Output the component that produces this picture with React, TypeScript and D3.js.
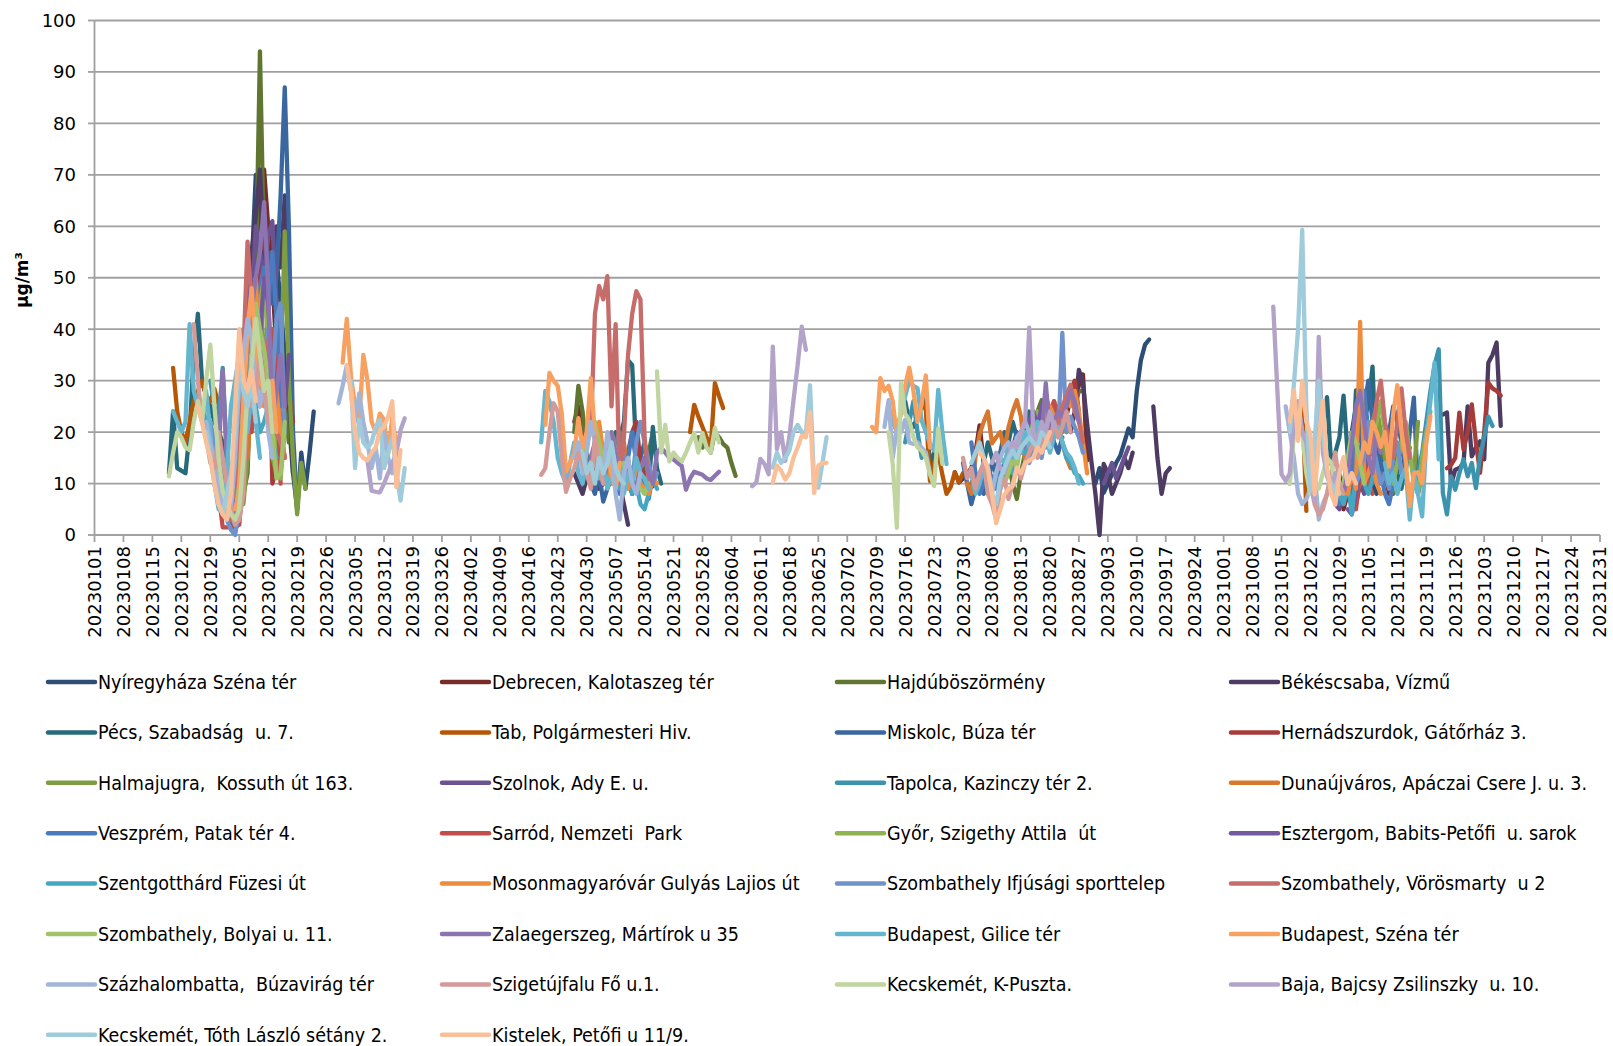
import React from 'react';
import * as d3 from 'd3';

type Seg = [number, number[]];

const names: string[] = [
  'Nyíregyháza Széna tér', 'Debrecen, Kalotaszeg tér', 'Hajdúböszörmény', 'Békéscsaba, Vízmű',
  'Pécs, Szabadság  u. 7.', 'Tab, Polgármesteri Hiv.', 'Miskolc, Búza tér', 'Hernádszurdok, Gátőrház 3.',
  'Halmajugra,  Kossuth út 163.', 'Szolnok, Ady E. u.', 'Tapolca, Kazinczy tér 2.', 'Dunaújváros, Apáczai Csere J. u. 3.',
  'Veszprém, Patak tér 4.', 'Sarród, Nemzeti  Park', 'Győr, Szigethy Attila  út', 'Esztergom, Babits-Petőfi  u. sarok',
  'Szentgotthárd Füzesi út', 'Mosonmagyaróvár Gulyás Lajios út', 'Szombathely Ifjúsági sporttelep', 'Szombathely, Vörösmarty  u 2',
  'Szombathely, Bolyai u. 11.', 'Zalaegerszeg, Mártírok u 35', 'Budapest, Gilice tér', 'Budapest, Széna tér',
  'Százhalombatta,  Búzavirág tér', 'Szigetújfalu Fő u.1.', 'Kecskemét, K-Puszta.', 'Baja, Bajcsy Zsilinszky  u. 10.',
  'Kecskemét, Tóth László sétány 2.', 'Kistelek, Petőfi u 11/9.',
];

const colors: string[] = [
  '#2C4D75', '#772C2A', '#5F7530', '#4D3B62', '#276A7C', '#B65708',
  '#3B67A0', '#A63C3A', '#7E9C40', '#6A5390', '#3B93AD', '#D8782E',
  '#4A7BBE', '#C24E4C', '#8FB350', '#7459A0', '#45A6C2', '#EE8B3C',
  '#6F92CB', '#C66C6A', '#A2C26A', '#8C74B0', '#64B5CE', '#F7A060',
  '#A2B5D8', '#D39A98', '#C0D5A0', '#B3A3C8', '#9FCBDB', '#F9BF99',
];

const s01: Seg[] = [
  [36, [10, 30, 52, 70, 62, 55, 48, 57, 54, 45, 35, 22, 12, 5, 16, 9, 16, 24]],
  [242, [10, 13, 8.2, 10, 11.8, 14, 15.4, 18, 20.7, 19, 28, 34, 37, 38]],
  [300, [10, 12, 8, 15, 20, 25, 30, 22, 14, 10, 8]],
];
const s02: Seg[] = [
  [33, [3, 2, 4, 12, 25, 40, 55, 65, 71, 60, 50, 35, 20]],
  [116, [22, 25, 20, 15, 12, 10, 14]],
  [208, [12.2, 10.2, 11, 12, 13, 16, 21.3, 14, 11]],
  [228, [18, 20, 22, 19, 24, 21, 25, 23, 27, 26, 29, 31.2, 14.5]],
  [302, [5, 8, 12, 6, 10, 14, 9, 12, 15, 18, 12, 8]],
];
const s03: Seg[] = [
  [35, [5, 8, 12, 35, 50, 94, 55, 35, 28, 24, 30, 25, 18]],
  [116, [20, 29, 24, 16, 13, 18, 15, 12, 14, 10, 12, 14, 9, 11, 8, 10, 9, 12, 16, 20]],
  [146, [19, 17, 18, 16, 20, 19, 17.7, 17, 14, 11.5]],
  [221, [14, 10, 7, 12, 16, 20, 22, 24, 26.2, 22, 20, 24, 23, 25, 26, 27, 25, 27.9, 28]],
  [304, [10, 12, 14, 9, 12, 18, 22, 15, 10, 12, 8]],
];
const s04: Seg[] = [
  [32, [8, 5, 3, 10, 25, 40, 55, 62, 71, 55, 45, 50, 60, 52, 66, 30, 12]],
  [116, [12, 10, 8, 11, 14, 12, 9, 10, 13, 15, 12, 10, 6, 2]],
  [236, [20, 24, 32.1, 29.5, 21.7, 14.5, 8, 0, 13.8, 12, 8, 10, 12, 15, 13, 16]],
  [256, [25, 15, 8, 12, 13]],
  [326, [23.4, 23.8, 9.8, 12.7, 13, 14, 25, 15.3, 17, 18.2, 14.7, 33.5, 35, 37.4, 21.2]],
];
const s05: Seg[] = [
  [18, [12, 24, 13, 12.5, 12, 20, 35, 43, 30, 27, 25, 22, 20, 18, 10, 6, 4, 8, 25, 40, 45, 35, 30, 32, 25, 20, 15]],
  [124, [14, 16, 20, 19, 22, 34, 33, 16, 12, 10, 9, 21, 13, 10]],
  [195, [24, 26, 22, 21, 23, 25, 27, 13, 16]],
  [212, [10, 12, 9, 14, 18, 15, 12, 16, 20, 18, 22, 19, 17, 20, 24, 22, 20, 18, 23, 21, 19, 22, 25, 20]],
  [296, [18, 21.3, 26.8, 13.8, 16, 19, 27.1, 15.6, 10.4, 28.1, 18.3, 22.9, 25, 32.7, 13.1, 10, 15, 20, 18, 12, 9, 14, 17]],
];
const s06: Seg[] = [
  [19, [32.5, 24, 20, 18, 22, 26, 28, 30, 27, 26, 28.4, 25.4, 8, 4, 3, 6, 20, 32, 28, 25, 22]],
  [144, [20, 25.3, 23, 21, 19, 17, 29.5, 27, 24.7]],
  [200, [26, 24.3, 10.5, 14, 16, 11.7, 8, 9.3, 12.2, 10.3, 12]],
  [290, [20, 24, 26, 4.7]],
];
const s07: Seg[] = [
  [28, [20, 15, 12, 8, 5, 3, 2, 5, 15, 35, 50, 45, 40, 50, 55, 45, 50, 66, 87, 60, 20, 5]],
  [120, [10, 8, 12, 6.5, 9, 11, 14, 10, 12, 13, 8, 11, 15, 18, 13]],
  [210, [14, 10, 6, 9, 12, 8, 10, 14, 12, 16, 18, 15, 17, 20, 18, 16, 22, 19, 17, 20, 23, 21, 18, 16, 19]],
  [305, [10, 14, 25, 30, 22, 18, 12, 15, 20, 25, 22, 18, 12, 20, 26.7, 8, 12]],
];
const s08: Seg[] = [
  [31, [10, 4, 2, 3, 5, 15, 30, 25, 40, 55, 60, 45, 10, 13, 18, 25, 28, 22]],
  [128, [12, 16, 20, 22, 14, 11, 9, 9.5]],
  [226, [18, 20, 22, 21, 24, 20, 23, 25, 22, 26, 28, 30, 24]],
  [327, [13, 13.6, 15, 23.8, 16.6, 20, 25.4, 18, 12.1, 20, 29.6, 28.5, 28, 27.1]],
];
const s09: Seg[] = [
  [36, [6, 15, 30, 40, 48, 35, 25, 15, 12, 30, 59, 30, 15, 4, 14, 9]],
  [226, [18, 20, 22, 25, 24, 22, 26, 23, 20, 22]],
  [306, [12, 15, 18, 22, 25, 20, 15, 12, 10, 14, 18, 20, 15, 12, 22]],
];
const s10: Seg[] = [
  [37, [20, 45, 60, 55, 50, 58, 61, 45, 30, 25, 35]],
  [244, [10, 12, 14, 11, 13, 15, 17]],
  [300, [6, 5, 8, 10, 7, 12, 10, 8, 14]],
];
const s11: Seg[] = [
  [28, [30, 25, 22, 32.5, 15, 8, 5, 3, 10, 30, 45, 40, 35, 30, 25, 22, 28, 20, 15]],
  [124, [12, 15, 18, 20, 15, 14, 12, 10, 9, 11, 7, 12]],
  [196, [18, 22, 26, 20, 15]],
  [216, [8, 10, 12, 9, 11, 14, 16, 18, 20, 17, 19, 22, 20, 18]],
  [320, [12, 16, 22, 28, 33, 36.1, 8.2, 4, 11.4, 8.8, 12, 14.7, 11.4, 14, 9.1, 15.3, 19, 23, 21.2]],
];
const s12: Seg[] = [
  [37, [15, 28, 40, 35, 30, 25, 38, 32, 20, 15]],
  [126, [15, 13, 18, 12, 10, 14]],
  [211, [10, 8, 15.1, 19.6, 22, 24, 17.8, 19, 20, 16.4, 21, 24, 26.2, 23, 14.5, 18.5, 20, 17, 22, 25, 18, 20, 22, 18, 15, 13]],
  [305, [8, 10, 12, 15, 11]],
];
const s13: Seg[] = [
  [30, [15, 10, 5, 3, 2, 6, 20, 38, 45, 40, 48, 52, 45, 55, 42, 25]],
  [118, [10, 15, 12, 18, 20, 16, 12, 14, 10, 8, 12, 15, 20, 14, 10]],
  [212, [18, 12, 8, 10, 13, 11, 9, 12, 14]],
  [300, [8, 6, 10, 14, 12, 18, 24, 28, 20, 15, 10, 12, 8, 6, 10]],
];
const s14: Seg[] = [
  [30, [8, 1.5, 1.5, 1.5, 1.5, 2, 12, 30, 20, 28, 25, 30, 35, 40, 30, 10]],
  [228, [20, 22, 19, 24, 26, 23, 21]],
  [302, [6, 10, 8, 5, 12, 15, 10, 8]],
];
const s15: Seg[] = [
  [32, [10, 4, 2, 8, 25, 40, 35, 30, 45, 50, 38, 25, 12, 11, 20]],
  [222, [12, 15, 18, 20, 17, 22, 24, 21, 26, 23, 20, 22]],
  [308, [15, 18, 22, 26, 20, 15, 10, 14, 18, 22, 16, 10, 8, 15, 20, 24]],
];
const s16: Seg[] = [
  [34, [5, 10, 30, 50, 45, 40, 38, 50, 45, 30, 20]],
  [224, [18, 20, 22, 24, 21, 25, 27, 24]],
  [303, [5, 4, 8, 12, 18, 14, 10]],
];
const s17: Seg[] = [
  [26, [25, 22, 20, 15, 10, 5, 3, 6, 12, 28, 40, 35, 30, 25, 20, 22, 25, 18, 15]],
  [124, [15, 12, 10, 9, 12, 15, 8, 10, 6, 5, 8, 11, 9]],
  [222, [12, 15, 18, 16, 20, 18, 22, 19, 17, 20, 23, 21, 18, 15, 14, 12, 11.5, 10]],
  [301, [8, 6, 10, 4, 12, 15, 10, 8, 11, 14]],
];
const s18: Seg[] = [
  [34, [4, 6, 20, 35, 45, 50, 30, 25, 35, 22, 28, 20, 15]],
  [120, [14, 18, 22, 16, 12, 10, 12, 15, 11, 9, 12, 13, 10, 9, 8, 11, 10]],
  [226, [16, 18, 20, 17, 22, 25, 23, 20, 24, 27, 25, 28, 24, 18, 12]],
  [302, [10, 8, 12, 9, 41.4, 10, 12, 15, 10, 8]],
];
const s19: Seg[] = [
  [28, [22, 18, 12, 6, 3, 1, 0, 5, 22, 35, 48, 40, 30, 35, 40, 30, 42, 45, 20]],
  [128, [15, 12, 10, 18, 22, 18, 14, 10, 12]],
  [226, [14, 16, 18, 15, 20, 17, 22, 19, 39.3, 20, 23, 21, 19, 16]],
  [305, [10, 12, 16, 22, 18, 14, 10, 12, 9, 15, 18, 12]],
];
const s20: Seg[] = [
  [31, [12, 6, 3, 8, 20, 35, 57, 45, 40, 35, 30, 38, 25, 20, 18, 15]],
  [120, [20, 43, 48.4, 45.8, 50.3, 25, 41, 10, 19, 35, 43, 47.4, 45.8, 19, 10]],
  [232, [20, 22, 25, 27, 29.2, 24, 22, 18]],
  [308, [15, 20, 26, 30, 22, 18, 15, 22, 28.5, 20, 15]],
];
const s21: Seg[] = [
  [33, [6, 4, 10, 25, 35, 33, 45, 40, 36, 30, 20, 11, 12, 22]],
  [118, [15, 18, 20, 22, 18, 15, 14, 20, 16, 12, 14, 13, 12, 10, 9, 8, 10]],
  [220, [10, 12, 15, 13, 18, 20, 17, 22]],
  [300, [12, 8, 10, 15, 20, 18, 14, 10]],
];
const s22: Seg[] = [
  [30, [15, 32, 15, 8, 5, 3, 20, 38, 44, 50, 55, 64.7, 48, 22, 28, 35, 25]],
  [120, [15, 18, 12, 10, 14, 20, 16, 12, 10, 14, 11, 9, 13, 15, 12, 10, 16, 17, 16, 15, 14.7, 14, 13.4, 8.8, 11, 12.3, 12, 11.7, 11, 10.7, 11.5, 12.3]],
  [224, [16, 18, 17, 20, 22, 19, 29.5, 20, 22, 24, 23, 25, 28, 26, 22]],
  [302, [8, 12, 18, 25, 28, 22, 15, 12, 20, 16]],
];
const s23: Seg[] = [
  [19, [24, 22, 20, 22, 41, 28, 25, 22, 28, 20, 10, 5, 8, 12, 25, 30, 35, 25, 20, 28, 22, 15]],
  [108, [18, 28, 26, 22, 15, 12, 10, 14, 18, 12, 10, 14, 12, 15, 11, 13, 9, 12, 10, 14, 8, 12, 10, 15, 12, 11, 9]],
  [192, [25, 22, 20, 24, 27, 30, 29, 28.5, 22.2, 20, 17.7, 16.4, 28.2, 20, 13.8]],
  [212, [12, 8, 10, 13, 11, 9, 12, 15, 14, 17, 15, 18, 16, 20, 17, 19, 22, 18, 20, 16, 19, 21, 18, 16, 15, 13, 10]],
  [312, [14, 10, 12, 8, 11, 13, 3, 12.3, 8, 3.6, 18.6, 26, 33.5, 14.7]],
];
const s24: Seg[] = [
  [34, [5, 8, 25, 40, 48, 35, 30, 28, 25, 30, 20]],
  [60, [33.5, 42, 31, 25, 22.4, 35, 30, 22, 20, 23.6, 22.4, 15.8, 23, 17, 20]],
  [109, [21.4, 31.5, 30, 29, 23.4, 12.3, 14, 16, 22.7, 17, 20, 30.5, 19.5, 14, 12, 16, 12, 9, 14]],
  [188, [21, 20, 30.5, 28, 29, 26, 19, 24, 29, 32.5, 28, 22, 25.5, 31, 17]],
  [306, [14, 18, 16, 22, 20, 17.1, 20, 13.3, 23.5, 29.1, 20, 14.7, 5.6, 12, 12.2, 10, 18, 23.1]],
];
const s25: Seg[] = [
  [27, [22, 18, 14, 10, 6, 3, 5, 15, 30, 35, 42, 38, 30, 25, 30, 20, 15]],
  [59, [25.6, 29, 33, 28, 22, 27.5, 22, 18, 13, 17, 11, 20, 15, 12, 16]],
  [116, [15, 18, 12, 16, 22, 18, 15, 12, 20, 16, 8, 3, 12, 15, 10, 8, 12]],
  [191, [21, 26.2, 15, 20.8, 20, 22.4, 18, 17.7, 18, 17, 16, 12]],
  [214, [12, 14, 10, 8, 12, 15, 17, 18, 16, 19, 20, 22, 20, 18]],
  [288, [25, 20, 15, 8, 6, 7, 9, 12, 3, 6, 8, 12, 10]],
];
const s26: Seg[] = [
  [24, [41, 30, 22, 19, 14, 13, 20, 15, 10, 5, 2, 3, 8, 30, 25, 28, 35, 30, 22, 20]],
  [108, [11.7, 13, 20, 25.6, 24, 15, 8.4, 11, 13, 16, 14, 12, 9, 19, 14, 10]],
  [210, [15, 11, 13, 9, 12, 14, 8, 6, 3, 9, 11, 7, 10, 13, 11, 14, 16, 18, 15, 17, 20, 18, 22, 19, 21, 24, 20]],
  [292, [20, 15, 10, 6, 4, 5, 8, 12, 16, 10, 8]],
];
const s27: Seg[] = [
  [18, [11.4, 16, 20, 19, 17, 16.5, 22, 26, 22, 30, 37, 25, 15, 8.5, 6, 4, 3, 5, 15, 28, 33, 42, 35, 28, 30, 20]],
  [136, [31.8, 16, 21.4, 14.3, 16, 15, 14.3, 16, 18, 19.8, 16, 19.8, 17, 16, 20.8, 18]],
  [192, [20, 13.8, 1.4, 29.5, 23.6, 22.3, 19, 17, 16.4, 15, 11.8, 9.5, 20.7, 13.8]],
  [289, [9.9, 19.6, 25, 20, 12, 8, 10, 9, 12, 15, 14, 10, 8]],
];
const s28: Seg[] = [
  [66, [14.5, 8.6, 8.4, 8.3, 10, 12, 14, 16, 20.4, 22.7]],
  [159, [9.5, 10.2, 14.8, 13.8, 11.8, 36.6, 16.7, 20, 14.4, 19, 26.2, 33, 40.5, 36]],
  [217, [14, 16, 13, 12, 15, 18, 17, 20, 22, 40.3, 20, 18, 22, 20, 24, 21]],
  [285, [44.4, 28, 11.8, 10.5, 12, 22, 26, 20, 18, 10, 6.6, 38.5, 16, 11.5, 9, 12, 10]],
];
const s29: Seg[] = [
  [27, [20, 15, 10, 6, 4, 8, 12, 20, 35, 28, 25, 30, 22]],
  [62, [30, 13, 22.4, 18, 17, 18, 21, 22.4, 13, 16, 19, 12, 6.7, 13]],
  [118, [16, 12, 14, 10, 15, 12, 14, 18, 13, 11, 10]],
  [164, [13.1, 16, 14, 15, 16.4, 20, 21.4, 20, 19.8, 29.1, 9.9, 9.2, 14, 19]],
  [212, [14, 16, 18, 15, 13, 8, 6, 11, 13, 15, 16.4, 15, 17, 18, 19, 18, 17, 20, 19, 17]],
  [289, [20, 29.4, 40, 59.3, 24.8, 8.6, 18, 30, 20, 12, 10, 8, 12, 15, 10]],
];
const s30: Seg[] = [
  [25, [25, 22, 18, 15, 10, 6, 4, 3, 8, 25, 40, 30, 28, 32, 26]],
  [61, [33, 28, 20, 16, 15, 14.5, 16, 17, 20.4, 21, 23, 26, 9.3, 16.5]],
  [164, [10.2, 13.5, 12.5, 10.8, 12, 15, 17, 19.3, 19, 23.9, 8.2, 13.5, 14, 14]],
  [214, [16, 15, 13, 8, 2.3, 5, 7.8, 9, 9.5, 13.1, 12, 14, 14.4, 15.1, 17, 16, 18, 20]],
  [289, [22, 28.1, 18.3, 30, 22, 19.6, 7.9, 18, 26.1, 13.1, 8, 5.9, 11.8, 15.1, 9.9, 12, 10]],
];

const seriesData: Seg[][] = [
  s01, s02, s03, s04, s05, s06, s07, s08, s09, s10, s11, s12, s13, s14, s15,
  s16, s17, s18, s19, s20, s21, s22, s23, s24, s25, s26, s27, s28, s29, s30,
];

const yTicks: number[] = [0, 10, 20, 30, 40, 50, 60, 70, 80, 90, 100];
const xTickDays: number[] = d3.range(0, 365, 7);
const fmt = d3.timeFormat('%Y%m%d');
const tickLabel = (d: number) => fmt(new Date(2023, 0, 1 + d));

const W = 1613;
const H = 1046;
const left = 94.5;
const right = 1600;
const top = 20.5;
const bottom = 535;

export default function App() {
  const x = d3.scaleLinear().domain([0, 364]).range([left, right]);
  const y = d3.scaleLinear().domain([0, 100]).range([bottom, top]);
  const line = d3
    .line<[number, number]>()
    .x((p) => x(p[0]))
    .y((p) => y(p[1]));

  const gridColor = '#A0A0A0';
  const legendCols = [48, 442, 837, 1231];
  const legendRow0 = 682;
  const legendDy = 50.4;

  return (
    <svg
      width={W}
      height={H}
      viewBox={`0 0 ${W} ${H}`}
      style={{ position: 'absolute', left: 0, top: 0, background: '#fff' }}
    >
      <rect x={0} y={0} width={W} height={H} fill="#fff" />
      {yTicks.map((t) => (
        <line key={'g' + t} x1={left} x2={right} y1={y(t)} y2={y(t)} stroke={gridColor} strokeWidth={1.8} />
      ))}
      <line x1={left} x2={left} y1={top} y2={bottom} stroke={gridColor} strokeWidth={1.8} />
      <line x1={left} x2={right} y1={bottom} y2={bottom} stroke={gridColor} strokeWidth={1.8} />
      {yTicks.map((t) => (
        <line key={'yt' + t} x1={left - 6.5} x2={left} y1={y(t)} y2={y(t)} stroke={gridColor} strokeWidth={1.8} />
      ))}
      {xTickDays.map((d) => (
        <line key={'xt' + d} x1={x(d)} x2={x(d)} y1={bottom} y2={bottom + 7} stroke={gridColor} strokeWidth={1.8} />
      ))}
      {yTicks.map((t) => (
        <text
          key={'yl' + t}
          x={76}
          y={y(t)}
          dy="0.36em"
          textAnchor="end"
          fontFamily="DejaVu Sans, Verdana, sans-serif"
          fontSize={18}
          fill="#000"
        >
          {t}
        </text>
      ))}
      {xTickDays.map((d) => (
        <text
          key={'xl' + d}
          transform={`translate(${x(d)},${bottom + 11}) rotate(-90)`}
          dy="0.36em"
          textAnchor="end"
          fontFamily="DejaVu Sans, Verdana, sans-serif"
          fontSize={18}
          fill="#000"
        >
          {tickLabel(d)}
        </text>
      ))}
      <text
        transform={`translate(22,280) rotate(-90)`}
        dy="0.36em"
        textAnchor="middle"
        fontFamily="DejaVu Sans, Arial, sans-serif"
        fontWeight="bold"
        fontSize={17}
        fill="#000"
      >
        µg/m³
      </text>
      <g fill="none" strokeWidth={4.3} strokeLinejoin="round" strokeLinecap="round">
        {seriesData.map((segs, i) =>
          segs.map((seg, j) => {
            const pts: [number, number][] = seg[1].map((v, k) => [seg[0] + k, v]);
            return <path key={`s${i}-${j}`} d={line(pts) || ''} stroke={colors[i]} />;
          })
        )}
      </g>
      {names.map((n, i) => {
        const col = i % 4;
        const row = Math.floor(i / 4);
        const lx = legendCols[col];
        const ly = legendRow0 + row * legendDy;
        return (
          <g key={'lg' + i}>
            <line x1={lx} x2={lx + 47} y1={ly} y2={ly} stroke={colors[i]} strokeWidth={4.5} strokeLinecap="round" />
            <text
              x={lx + 50}
              y={ly}
              dy="0.35em"
              fontFamily="Liberation Sans Narrow, DejaVu Sans Condensed, sans-serif"
              fontSize={19.5}
              fill="#000"
              style={{ whiteSpace: 'pre' }}
            >
              {n}
            </text>
          </g>
        );
      })}
    </svg>
  );
}
